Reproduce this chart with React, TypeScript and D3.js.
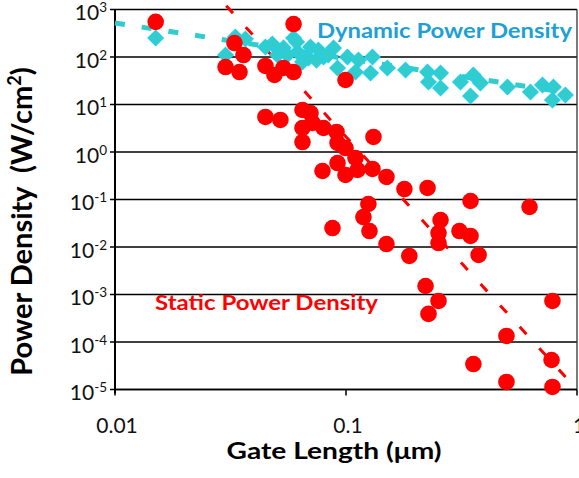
import React, { useEffect } from "react";
import * as d3 from "d3";

// ---- Data ----
const staticX = [
  0.015, 0.0329, 0.036, 0.0301, 0.0346, 0.0593, 0.0448, 0.049, 0.0536, 0.0593,
  0.0995, 0.0448, 0.052, 0.0648, 0.0702, 0.0648, 0.0716, 0.0799, 0.091, 0.0648,
  0.0919, 0.0995, 0.1315, 0.1099, 0.0919, 0.0791, 0.0995, 0.1122, 0.1302, 0.1497,
  0.179, 0.2254, 0.125, 0.119, 0.0874, 0.1264, 0.1497, 0.188, 0.2566, 0.2515,
  0.2515, 0.3099, 0.346, 0.346, 0.375, 0.623, 0.221, 0.2515, 0.2276, 0.783,
  0.495, 0.356, 0.495, 0.776, 0.783,
];
const staticY = [
  550, 197, 110, 61.5, 48.3, 495, 64.7, 41.8, 58.7, 48.3,
  32.8, 5.46, 4.72, 7.66, 6.62, 3.2, 4.08, 3.2, 2.64, 1.62,
  1.55, 1.21, 2.07, 0.748, 0.586, 0.398, 0.328, 0.418, 0.439, 0.298,
  0.166, 0.175, 0.0804, 0.0428, 0.0251, 0.0217, 0.01156, 0.00647, 0.037, 0.0197,
  0.0121, 0.0217, 0.0171, 0.093, 0.0068, 0.0695, 0.00151, 0.00073, 0.00039, 0.00073,
  0.000134, 0.0000344, 0.0000144, 0.0000418, 0.0000113,
];
const dynamicX = [
  0.015, 0.0301, 0.0332, 0.0367, 0.0448, 0.048, 0.0505, 0.0536, 0.0593, 0.0617,
  0.0648, 0.0611, 0.0702, 0.0688, 0.0799, 0.0883, 0.0919, 0.1015, 0.1133, 0.1302,
  0.1099, 0.1277, 0.151, 0.181, 0.2254, 0.2566, 0.2276, 0.2566, 0.313, 0.356,
  0.382, 0.346, 0.5, 0.629, 0.709, 0.791, 0.783, 0.891, 0.0558, 0.076,
  0.0745, 0.0838,
];
const dynamicY = [
  251, 110, 264, 239, 162, 188, 110, 155, 251, 127,
  78.5, 207, 162, 95, 100, 155, 58.7, 100, 86.5, 100,
  48.3, 46, 58.7, 53, 48.3, 46, 29.8, 22.2, 29.8, 41.8,
  28.4, 15.1, 23.3, 18.3, 25.7, 23.3, 12.4, 15.8, 110, 140,
  86, 110,
];
const dynamicFitX = [0.01, 0.89];
const dynamicFitY = [520, 18];
const staticFitX = [0.0303, 1];
const staticFitY = [1200, 0.00001];

const xTickValues = [0.01, 0.1, 1];
const xTickLabels = ["0.01", "0.1", "1"];
const yExponents = [3, 2, 1, 0, -1, -2, -3, -4, -5];

const W = 579;
const H = 478;
const FONT = "Lato, 'Open Sans', sans-serif";

export default function App() {
  useEffect(() => {
    document.body.style.margin = "0";
  }, []);

  const x = d3.scaleLog().domain([0.01, 1]).range([115, 577]);
  const y = d3.scaleLog().domain([1e-5, 1e3]).range([389.5, 9.5]);

  const line = d3
    .line<[number, number]>()
    .x((d) => x(d[0]))
    .y((d) => y(d[1]));

  const dynFit = dynamicFitX.map((v, i) => [v, dynamicFitY[i]] as [number, number]);
  const statFit = staticFitX.map((v, i) => [v, staticFitY[i]] as [number, number]);
  const diamond = d3.symbol().type(d3.symbolDiamond2).size(150)();

  const left = x(0.01);
  const right = x(1);
  const top = y(1e3);
  const bottom = y(1e-5);

  return (
    <svg width={W} height={H} style={{ display: "block" }} fontFamily={FONT}>
      <rect width={W} height={H} fill="#fff" />
      {/* gridlines */}
      {yExponents.map((e) => (
        <line
          key={e}
          x1={left - 5}
          x2={right}
          y1={y(Math.pow(10, e))}
          y2={y(Math.pow(10, e))}
          stroke="#000"
          strokeWidth={1.3}
        />
      ))}
      {/* frame / axes */}
      <line x1={left} x2={left} y1={top} y2={bottom + 4} stroke="#000" strokeWidth={2} />
      <line x1={right} x2={right} y1={top} y2={bottom} stroke="#333" strokeWidth={1.3} />
      <line x1={left} x2={right} y1={bottom} y2={bottom} stroke="#000" strokeWidth={1.5} />
      {xTickValues.map((v) => (
        <line key={v} x1={x(v)} x2={x(v)} y1={bottom} y2={bottom + 6} stroke="#000" strokeWidth={1.5} />
      ))}
      {/* y tick labels */}
      {yExponents.map((e) => (
        <text
          key={e}
          x={107}
          y={y(Math.pow(10, e)) + 10.5}
          textAnchor="end"
          fontSize={21}
          fill="#111"
        >
          10
          <tspan dy={-8} fontSize={13.5}>
            {e}
          </tspan>
        </text>
      ))}
      {/* x tick labels */}
      {xTickValues.map((v, i) => (
        <text key={v} x={x(v) + 2} y={433} textAnchor="middle" fontSize={21} fill="#111">
          {xTickLabels[i]}
        </text>
      ))}
      {/* fit lines */}
      <path
        d={line(dynFit) || ""}
        fill="none"
        stroke="#33CCCC"
        strokeWidth={5}
        strokeDasharray="10 17"
      />
      <path
        d={line(statFit) || ""}
        fill="none"
        stroke="#FF0000"
        strokeWidth={3}
        strokeDasharray="10 19"
      />
      {/* dynamic points */}
      {dynamicX.map((v, i) => (
        <path
          key={"d" + i}
          d={diamond || ""}
          transform={`translate(${x(v)},${y(dynamicY[i])})`}
          fill="#33CCCC"
          stroke="#22D0E8"
          strokeWidth={1.2}
        />
      ))}
      {/* static points */}
      {staticX.map((v, i) => (
        <circle key={"s" + i} cx={x(v)} cy={y(staticY[i])} r={8.3} fill="#FF0000" />
      ))}
      {/* annotations */}
      <text
        x={317}
        y={38}
        fontSize={21}
        fontWeight={700}
        fill="#1E9FD6"
        textLength={255}
        lengthAdjust="spacingAndGlyphs"
      >
        Dynamic Power Density
      </text>
      <text
        x={155}
        y={310}
        fontSize={20}
        fontWeight={700}
        fill="#FF0000"
        textLength={223}
        lengthAdjust="spacingAndGlyphs"
      >
        Static Power Density
      </text>
      {/* axis titles */}
      <text
        x={334}
        y={459}
        textAnchor="middle"
        fontSize={23}
        fontWeight={700}
        fill="#000"
        textLength={215}
        lengthAdjust="spacingAndGlyphs"
      >
        Gate Length (μm)
      </text>
      <text
        transform="translate(31.5,221.5) rotate(-90)"
        textAnchor="middle"
        fontSize={29}
        fontWeight={700}
        fill="#000"
      >
        Power Density{"\u00a0\u00a0"}(W/cm
        <tspan dy={-11} fontSize={18}>
          2
        </tspan>
        <tspan dy={11}>)</tspan>
      </text>
    </svg>
  );
}
